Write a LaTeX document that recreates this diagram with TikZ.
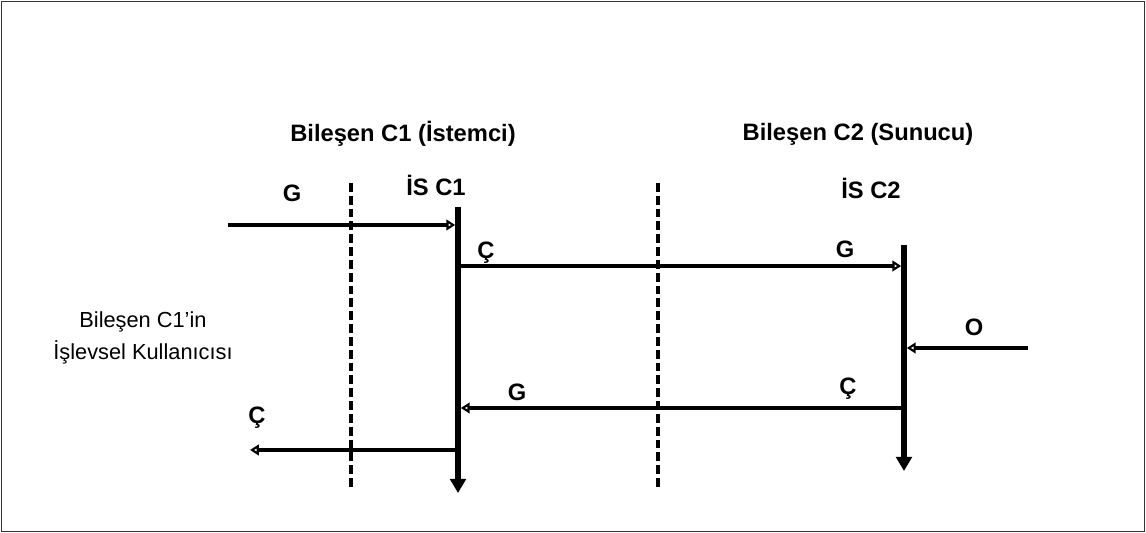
\documentclass[tikz,border=0pt]{standalone}
\usepackage{fontspec}
\setmainfont{Liberation Sans}
\usetikzlibrary{arrows.meta}
\tikzset{
  titolo/.style={font=\bfseries\fontsize{13.5}{16}\selectfont},
  lettera/.style={font=\bfseries\fontsize{13.5}{16}\selectfont},
  vita/.style={line width=3pt,-{Triangle[length=2.8mm,width=3.1mm]}},
  messaggio/.style={line width=1.8pt,-{Triangle[open,length=5pt,width=6pt,line width=1.2pt]}},
  confine/.style={line width=1.9pt,dash pattern=on 5pt off 2.3pt}
}
\begin{document}
\begin{tikzpicture}[font=\fontsize{12.4}{18}\selectfont]

\useasboundingbox (0,0) rectangle (22.92,10.66);
\draw[line width=0.7pt,black!80] (0.03,0.03) rectangle (22.89,10.63);

% Titoli

\node[titolo] (comp1) at (8.06,7.98) {Bileşen C1 (İstemci)};
\node[titolo] (is1) at (8.72,6.96) {İS C1};
\node[titolo] (comp2) at (17.16,7.98) {Bileşen C2 (Sunucu)};
\node[titolo] (is2) at (17.42,6.90) {İS C2};

\node[align=center] (utente) at (2.86,3.9) {Bileşen C1’in\\İşlevsel Kullanıcısı};

% Confini

\coordinate (d1a) at (7.02,7.0);
\coordinate (d1b) at (7.02,0.92);
\coordinate (d2a) at (13.16,7.0);
\coordinate (d2b) at (13.16,0.92);
\draw[confine] (d1a) -- (d1b);
\draw[confine] (d2a) -- (d2b);

% Linee di vita

\coordinate (v1a) at (9.16,6.52);
\coordinate (v1b) at (9.16,0.80);
\coordinate (v2a) at (18.08,5.76);
\coordinate (v2b) at (18.08,1.24);
\draw[vita] (v1a) -- (v1b);
\draw[vita] (v2a) -- (v2b);

% Messaggi

\coordinate (gin) at (4.56,6.16);
\coordinate (oin) at (20.56,3.70);
\coordinate (cout) at (5.0,1.66);

\draw[messaggio] (gin) -- ([xshift=-1.6pt]v1a |- gin);
\draw[messaggio] (v1a |- 0,5.34) -- ([xshift=-1.6pt]v2a |- 0,5.34);
\draw[messaggio] (oin) -- ([xshift=1.6pt]v2a |- oin);
\draw[messaggio] (v2a |- 0,2.50) -- ([xshift=1.6pt]v1a |- 0,2.50);
\draw[messaggio] ([xshift=-1.6pt]v1a |- cout) -- (cout);

\node[lettera] (g1) at (5.84,6.80) {G};
\node[lettera] (c1) at (9.72,5.60) {Ç};
\node[lettera] (g2) at (16.90,5.68) {G};
\node[lettera] (o1) at (19.48,4.12) {O};
\node[lettera] (c2) at (16.96,2.88) {Ç};
\node[lettera] (g3) at (10.34,2.82) {G};
\node[lettera] (c3) at (5.14,2.30) {Ç};

\end{tikzpicture}
\end{document}
